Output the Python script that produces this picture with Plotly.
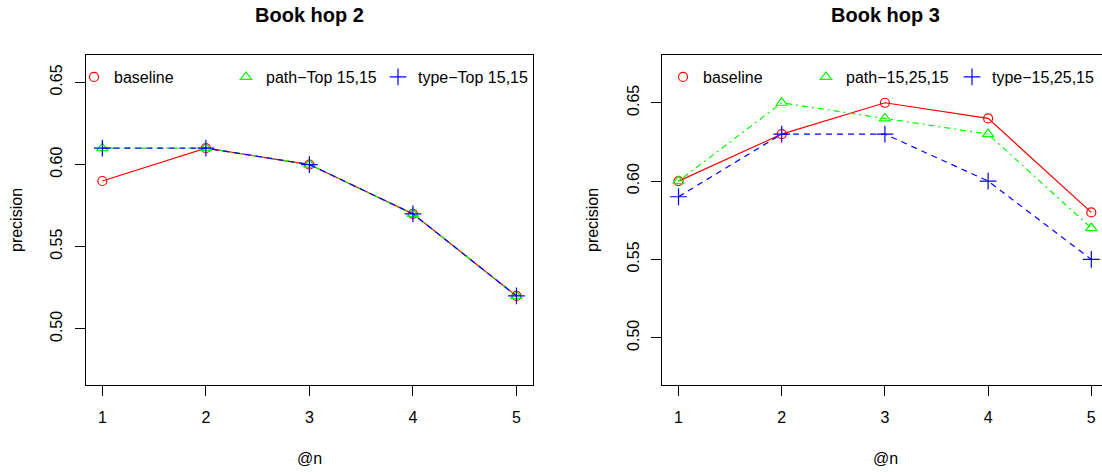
import plotly.graph_objects as go

# ---- data ----
n_at = [1, 2, 3, 4, 5]
series_names_left = ["baseline", "path\u2212Top 15,15", "type\u2212Top 15,15"]
series_names_right = ["baseline", "path\u221215,25,15", "type\u221215,25,15"]

hop2_baseline = [0.59, 0.61, 0.60, 0.57, 0.52]
hop2_path = [0.61, 0.61, 0.60, 0.57, 0.52]
hop2_type = [0.61, 0.61, 0.60, 0.57, 0.52]

hop3_baseline = [0.60, 0.63, 0.65, 0.64, 0.58]
hop3_path = [0.60, 0.65, 0.64, 0.63, 0.57]
hop3_type = [0.59, 0.63, 0.63, 0.60, 0.55]

y_ticks = [0.50, 0.55, 0.60, 0.65]
titles = ["Book hop 2", "Book hop 3"]

# ---- styling ----
W, H = 1102, 472
FONT = "Liberation Sans, Arial, Helvetica, sans-serif"
colors = ["#FF0000", "#00FF00", "#0000FF"]
symbols = ["circle-open", "triangle-up-open", "cross-thin-open"]
msizes = [9, 10, 12]
dashes = ["solid", "2px,4px,6px,4px", "6px,5px"]

def fx(p):
    return p / W

def fy(p):
    return 1 - p / H

fig = go.Figure()

panels = [
    dict(xa="x", ya="y", data=[hop2_baseline, hop2_path, hop2_type], names=series_names_left),
    dict(xa="x2", ya="y2", data=[hop3_baseline, hop3_path, hop3_type], names=series_names_right),
]

for p in panels:
    for i, vals in enumerate(p["data"]):
        fig.add_trace(go.Scatter(
            x=n_at, y=vals, mode="lines+markers", xaxis=p["xa"], yaxis=p["ya"],
            line=dict(color=colors[i], width=1.2, dash=dashes[i]),
            marker=dict(symbol=symbols[i], size=msizes[i], color=colors[i],
                        line=dict(color=colors[i], width=1.2)),
            showlegend=False, hoverinfo="skip",
        ))

# legend entries (marker only, like R legend with pch)
leg_pos_left = [94, 246, 398]
leg_pos_right = [683, 826, 972]
leg_y = 77
legend_layouts = {}
k = 1
for names, positions in [(series_names_left, leg_pos_left), (series_names_right, leg_pos_right)]:
    for i, nm in enumerate(names):
        lname = "legend" if k == 1 else f"legend{k}"
        fig.add_trace(go.Scatter(
            x=[None], y=[None], mode="markers", name=nm, legend=lname,
            marker=dict(symbol=symbols[i], size=msizes[i], color=colors[i],
                        line=dict(color=colors[i], width=1.2)),
            showlegend=True,
        ))
        legend_layouts[lname] = dict(
            x=fx(positions[i] - 20), y=fy(leg_y), xanchor="left", yanchor="middle",
            bgcolor="rgba(0,0,0,0)", borderwidth=0, orientation="h",
            font=dict(family=FONT, size=16, color="#000000"),
            itemwidth=30,
        )
        k += 1

axis_common = dict(
    showgrid=False, zeroline=False, showline=True, linecolor="#000000", linewidth=1,
    ticks="outside", ticklen=10, tickwidth=1, tickcolor="#000000",
    tickfont=dict(family=FONT, size=16, color="#000000"),
)

y_dom = [fy(385), fy(55)]
fig.update_layout(
    width=W, height=H,
    margin=dict(l=0, r=0, t=0, b=0),
    paper_bgcolor="white", plot_bgcolor="white",
    font=dict(family=FONT, size=16, color="#000000"),
    xaxis=dict(domain=[fx(85.8), fx(533)], range=[0.84, 5.16], tickvals=n_at,
               mirror=True, anchor="y", ticklabelstandoff=8, **axis_common),
    yaxis=dict(domain=y_dom, range=[0.4658, 0.6667], tickvals=y_ticks, tickformat=".2f",
               mirror=True, anchor="x", tickangle=-90, ticklabelstandoff=6, **axis_common),
    xaxis2=dict(domain=[fx(662), 1.0], range=[0.84, 0.84 + 440 / 103.2], tickvals=n_at,
                mirror=True, anchor="y2", ticklabelstandoff=8, **axis_common),
    yaxis2=dict(domain=y_dom, range=[0.4698, 0.6805], tickvals=y_ticks, tickformat=".2f",
                mirror=False, anchor="x2", tickangle=-90, ticklabelstandoff=6, **axis_common),
    **legend_layouts,
)

annotations = [
    dict(text="<b>" + titles[0] + "</b>", x=fx(309), y=fy(15), font=dict(size=20)),
    dict(text="<b>" + titles[1] + "</b>", x=fx(885), y=fy(15), font=dict(size=20)),
    dict(text="@n", x=fx(309), y=fy(458), font=dict(size=16)),
    dict(text="@n", x=fx(885), y=fy(458), font=dict(size=16)),
    dict(text="precision", x=fx(16), y=fy(220), textangle=-90, font=dict(size=16)),
    dict(text="precision", x=fx(592), y=fy(220), textangle=-90, font=dict(size=16)),
]
for a in annotations:
    a.update(xref="paper", yref="paper", showarrow=False, xanchor="center", yanchor="middle")
    a["font"].update(family=FONT, color="#000000")
fig.update_layout(annotations=annotations)

fig.write_html(
    "out.html",
    config={"displayModeBar": False, "staticPlot": True},
    post_script="document.body.style.margin='0';document.body.style.overflow='hidden';",
)
